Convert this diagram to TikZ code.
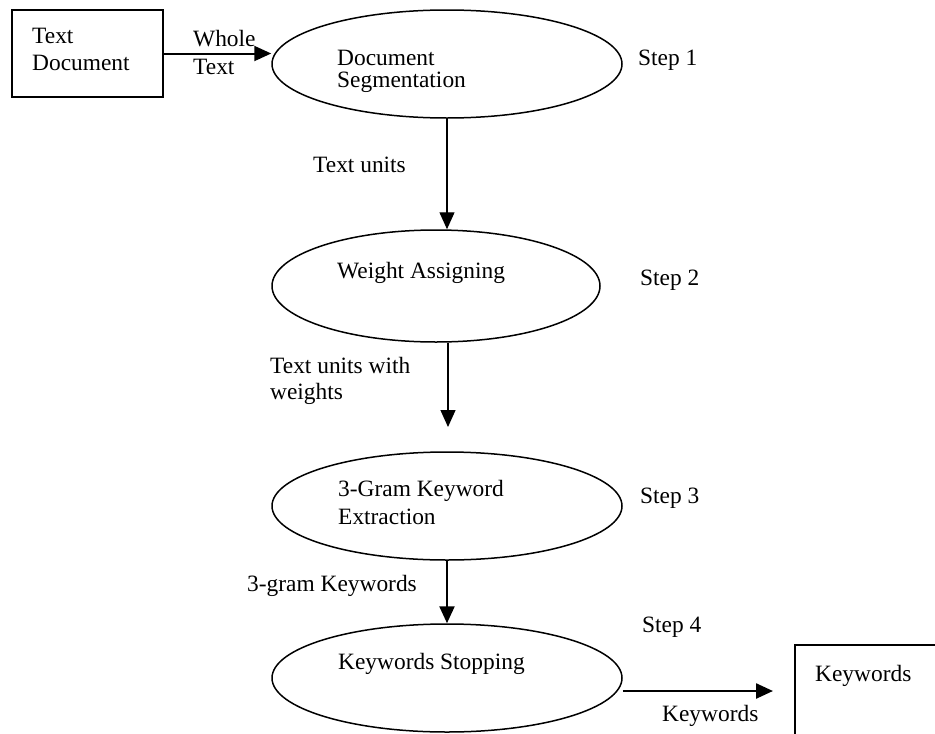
\documentclass[tikz,border=0pt]{standalone}
\usepackage{fontspec}
\setmainfont{Liberation Serif}
\usetikzlibrary{shapes.geometric,arrows.meta}

\tikzset{
  stage/.style={draw, ellipse, line width=1.5pt, inner sep=0pt},
  frame/.style={draw, rectangle, line width=1.4pt, inner sep=0pt},
  lbl/.style={anchor=north west, inner sep=0pt, align=left, font=\fontsize{23.4}{27}\selectfont},
  flow/.style={-{Triangle[length=17pt,width=15pt]}, line width=1.3pt},
  boldflow/.style={flow, line width=2.4pt},
}

\begin{document}
\begin{tikzpicture}[x=1pt,y=-1pt]
\useasboundingbox (0,0) rectangle (935,734);
\clip (0,0) rectangle (935,734);
% Input and output
\node[frame, minimum width=151pt, minimum height=87pt] (doc) at (87.5,53.5) {};
\node[lbl] (doctxt) at (32,28) {Text\\Document};
\node[frame, minimum width=150pt, minimum height=100pt] (kbox) at (870,695) {};
\node[lbl] (kboxtxt) at (815,665) {Keywords};
% Steps
\node[stage, minimum width=350pt, minimum height=108pt] (seg) at (447,64) {};
\node[stage, minimum width=328pt, minimum height=112pt] (wgt) at (436,286) {};
\node[stage, minimum width=350pt, minimum height=108pt] (gram) at (447,506) {};
\node[stage, minimum width=350pt, minimum height=108pt] (stop) at (447,678) {};
\node[lbl, font=\fontsize{23.4}{22}\selectfont] (segtxt) at (337,50) {Document\\Segmentation};
\node[lbl] (wgttxt) at (337,262) {Weight Assigning};
\node[lbl, font=\fontsize{23.4}{28}\selectfont] (gramtxt) at (338,480) {3-Gram Keyword\\Extraction};
\node[lbl] (stoptxt) at (338,653) {Keywords Stopping};
\node[lbl] (step1) at (638,50) {Step 1};
\node[lbl] (step2) at (640,270) {Step 2};
\node[lbl] (step3) at (640,488) {Step 3};
\node[lbl] (step4) at (642,617) {Step 4};
% Connectors
\draw[flow, line width=2pt] (doc.east) -- (doc.east -| seg.west);
\node[lbl, font=\fontsize{23.4}{28}\selectfont] (whole) at (193,30) {Whole\\Text};
\draw[flow] (seg.south) -- (seg.south |- wgt.north);
\node[lbl] (units) at (313,157) {Text units};
\coordinate (gapend) at (448,427);
\draw[flow] (gapend |- wgt.south) -- (gapend);
\node[lbl, font=\fontsize{23.4}{26}\selectfont] (unitsw) at (270,357) {Text units with\\weights};
\draw[boldflow] (gram.south) -- (stop.north);
\node[lbl] (grams) at (247,575) {3-gram Keywords};
\coordinate (outend) at (773,691);
\draw[boldflow] (stop.east |- outend) -- (outend);
\node[lbl] (kws) at (662,705) {Keywords};
\end{tikzpicture}
\end{document}
